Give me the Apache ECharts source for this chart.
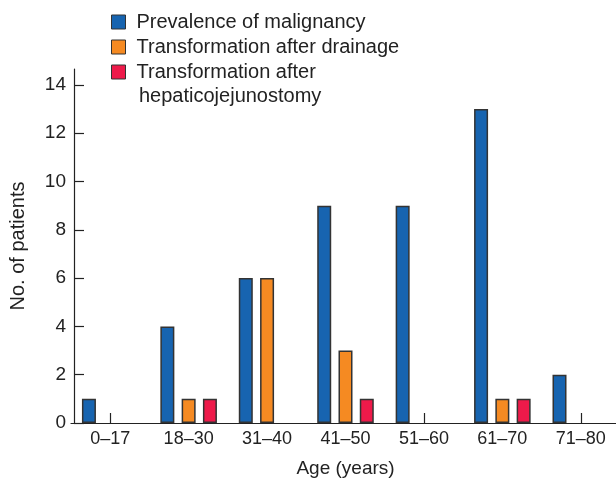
<!DOCTYPE html>
<html><head><meta charset="utf-8">
<script src="https://cdn.jsdelivr.net/npm/echarts@6/dist/echarts.min.js"></script>
<style>html,body{margin:0;padding:0;background:#fff}#c{width:616px;height:481px}</style>
</head><body><div id="c"></div>
<script>
const categories = ['0–17','18–30','31–40','41–50','51–60','61–70','71–80'];
const prevalence = [1,4,6,9,9,13,2];
const afterDrainage = [0,1,6,3,0,1,0];
const afterHJ = [0,1,0,1,0,1,0];
const yTicks = [0,2,4,6,8,10,12,14];
const seriesNames = ['Prevalence of malignancy','Transformation after drainage','Transformation after'];
const legendSecondLine = 'hepaticojejunostomy';
const colors = ['#1764b0','#f58a22','#ee1a4a'];

const font = 'Liberation Sans, Arial, Helvetica, sans-serif';
const chart = echarts.init(document.getElementById('c'), null, {renderer:'canvas'});
function bar(name, data, color){
  return {name, type:'bar', data: data.map(v => v === 0 ? null : v), barWidth:14, barGap:'52%',
    itemStyle:{color, borderColor:'#333', borderWidth:1.5}, z:3};
}
chart.setOption({
  animation:false,
  textStyle:{fontFamily:font},
  grid:{left:71, right:-4, top:69, bottom:58, containLabel:false, outerBoundsMode:'none'},
  legend:{orient:'vertical', left:106, top:7, itemWidth:14, itemHeight:14, itemGap:5,
    icon:'rect', textStyle:{fontSize:20, color:'#222', fontFamily:font, padding:[0,0,0,6]},
    itemStyle:{borderColor:'#333', borderWidth:1},
    data: seriesNames},
  graphic:[{type:'text', left:139, top:86, style:{text:legendSecondLine, font:'20px '+font, fill:'#222'}}],
  xAxis:{type:'category', data:categories, name:'Age (years)', nameLocation:'middle', nameGap:36,
    nameTextStyle:{fontSize:19, color:'#222'},
    axisLine:{lineStyle:{color:'#222', width:1.2}},
    axisTick:{show:true, interval:0, inside:true, length:10, alignWithLabel:true, lineStyle:{color:'#222', width:1.2}},
    axisLabel:{fontSize:18, color:'#222', margin:7, interval:0}},
  yAxis:{type:'value', min:0, max:14.66, offset:-3, name:'No. of patients', nameLocation:'middle', nameGap:46,
    nameTextStyle:{fontSize:20, color:'#222'},
    splitLine:{show:false},
    axisLine:{show:true, lineStyle:{color:'#222', width:1.2}},
    axisTick:{show:true, inside:true, length:10, lineStyle:{color:'#222', width:1.2}, customValues:yTicks},
    axisLabel:{fontSize:19, color:'#222', margin:8, customValues:yTicks}},
  series:[bar(seriesNames[0], prevalence, colors[0]), bar(seriesNames[1], afterDrainage, colors[1]), bar(seriesNames[2], afterHJ, colors[2])]
});
</script></body></html>
